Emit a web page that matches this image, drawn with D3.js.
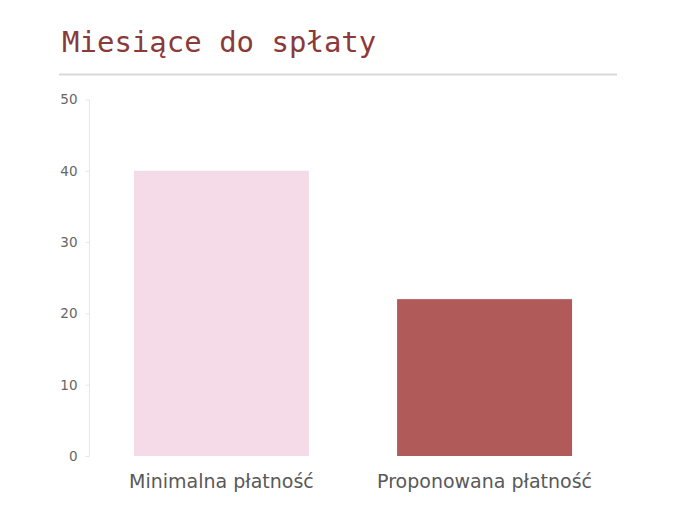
<!DOCTYPE html>
<html>
<head>
<meta charset="utf-8">
<script src="https://cdn.jsdelivr.net/npm/d3@7"></script>
<style>
    body { margin: 0; background: #fff; }
    .title { font-family: "DejaVu Sans Mono", monospace; font-size: 29px; fill: #8b3a3a; }
    .axis text { font-family: "DejaVu Sans", sans-serif; font-size: 13.5px; fill: #666; }
    .axis line, .axis path { stroke: #e6e6e6; }
    .catLabel { font-family: "DejaVu Sans", sans-serif; font-size: 19px; fill: #595959; }
</style>
</head>
<body>
<div id="chart"></div>
<script>
// chart data
var categories = ["Minimalna płatność", "Proponowana płatność"];
var months = [40, 22];
var yTicks = [0, 10, 20, 30, 40, 50];
var barColors = ["#f5dbe8", "#b05a5a"];
var titleText = "Miesiące do spłaty";

var width = 675;
var height = 520;

var svg = d3.select("#chart").append("svg")
    .attr("width", width)
    .attr("height", height);

// title and the rule under it
svg.append("text")
    .attr("class", "title")
    .attr("x", 62)
    .attr("y", 52)
    .text(titleText);

svg.append("line")
    .attr("x1", 59).attr("x2", 617)
    .attr("y1", 74.5).attr("y2", 74.5)
    .attr("stroke", "#d9d9d9")
    .attr("stroke-width", 2);

// scales
var xScale = d3.scaleBand().domain(categories).range([90, 616])
    .paddingInner(0.335).paddingOuter(0.167);
var yScale = d3.scaleLinear().domain([0, 50]).range([456, 99.5]);

// y axis
svg.append("g")
    .attr("class", "axis")
    .attr("transform", "translate(89.5,0)")
    .call(d3.axisLeft(yScale).tickValues(yTicks).tickSize(4).tickPadding(8))
    .call(function(g) { g.select(".domain").attr("d", `M0,${yScale(50)}V${yScale(0)}`); });

// bars
svg.selectAll("rect.bar")
    .data(months)
    .enter().append("rect")
    .attr("class", "bar")
    .attr("x", function(d, i) { return xScale(categories[i]); })
    .attr("y", function(d) { return yScale(d); })
    .attr("width", xScale.bandwidth())
    .attr("height", function(d) { return yScale(0) - yScale(d); })
    .attr("fill", function(d, i) { return barColors[i]; });

// category labels
svg.selectAll("text.catLabel")
    .data(categories)
    .enter().append("text")
    .attr("class", "catLabel")
    .attr("text-anchor", "middle")
    .attr("x", function(d) { return xScale(d) + xScale.bandwidth() / 2; })
    .attr("y", 488)
    .text(function(d) { return d; });
</script>
</body>
</html>
